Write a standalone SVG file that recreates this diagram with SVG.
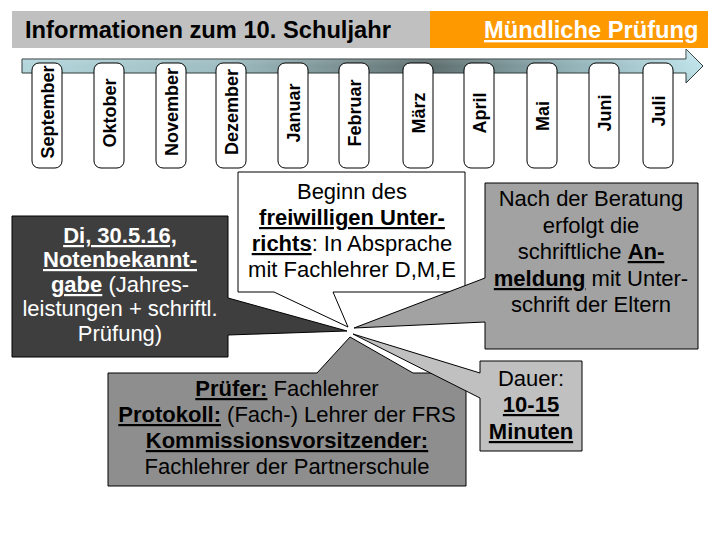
<svg xmlns="http://www.w3.org/2000/svg" width="720" height="540" viewBox="0 0 720 540">
  <defs>
    <linearGradient id="shaftGrad" x1="22" y1="0" x2="703" y2="0" gradientUnits="userSpaceOnUse">
      <stop offset="0" stop-color="#b3d6dc"/>
      <stop offset="0.3" stop-color="#9dbcc1"/>
      <stop offset="0.6" stop-color="#5f6e6e"/>
      <stop offset="0.8" stop-color="#8fb0b6"/>
      <stop offset="1" stop-color="#bfe3ea"/>
    </linearGradient>
    <linearGradient id="shaftShade" x1="0" y1="49" x2="0" y2="83" gradientUnits="userSpaceOnUse">
      <stop offset="0" stop-color="#ffffff" stop-opacity="0.25"/>
      <stop offset="0.5" stop-color="#ffffff" stop-opacity="0"/>
      <stop offset="1" stop-color="#000000" stop-opacity="0.1"/>
    </linearGradient>
  </defs>
  <style>
    text { font-family: "Liberation Sans", Arial, sans-serif; }
    .title { font-size: 23.7px; font-weight: bold; }
    .tab { fill: #ffffff; stroke: #000000; stroke-width: 1; }
    .month { font-size: 18px; font-weight: bold; fill: #000000; text-anchor: middle; }
    .co { stroke: #000000; stroke-width: 1; stroke-linejoin: miter; }
    .txt { font-size: 22px; text-anchor: middle; fill: #000000; }
    .wtxt { font-size: 22px; text-anchor: middle; fill: #ffffff; }
    .bu { font-weight: bold; text-decoration: underline; }
  </style>
  <rect width="720" height="540" fill="#ffffff"/>

  <g id="title">
    <rect x="12" y="11" width="418" height="37" fill="#c0c0c0"/>
    <rect x="430" y="11" width="278" height="37" fill="#ff9900"/>
    <text class="title" x="25" y="38" fill="#000000">Informationen zum 10. Schuljahr</text>
    <text class="title" x="484" y="38" fill="#ffffff" text-decoration="underline">Mündliche Prüfung</text>
  </g>

  <g id="timeline">
    <path d="M22,59 H686 V49 L703,66 L686,83 V73 H22 Z" fill="url(#shaftGrad)" stroke="#2f3a3a" stroke-width="1"/>
    <path d="M22,59 H686 V49 L703,66 L686,83 V73 H22 Z" fill="url(#shaftShade)"/>
  </g>

  <g id="months">
    <g id="m-sep"><rect class="tab" x="32" y="63" width="30" height="105" rx="7"/><text class="month" transform="translate(53.5,112) rotate(-90)">September</text></g>
    <g id="m-okt"><rect class="tab" x="94" y="63" width="30" height="105" rx="7"/><text class="month" transform="translate(115.5,113) rotate(-90)">Oktober</text></g>
    <g id="m-nov"><rect class="tab" x="156" y="63" width="30" height="105" rx="7"/><text class="month" transform="translate(177.5,112) rotate(-90)">November</text></g>
    <g id="m-dez"><rect class="tab" x="216" y="63" width="30" height="105" rx="7"/><text class="month" transform="translate(237.5,112) rotate(-90)">Dezember</text></g>
    <g id="m-jan"><rect class="tab" x="278" y="63" width="30" height="105" rx="7"/><text class="month" transform="translate(299.5,113) rotate(-90)">Januar</text></g>
    <g id="m-feb"><rect class="tab" x="339" y="63" width="30" height="105" rx="7"/><text class="month" transform="translate(360.5,113) rotate(-90)">Februar</text></g>
    <g id="m-mar"><rect class="tab" x="403" y="63" width="30" height="105" rx="7"/><text class="month" transform="translate(424.5,113) rotate(-90)">März</text></g>
    <g id="m-apr"><rect class="tab" x="464" y="63" width="30" height="105" rx="7"/><text class="month" transform="translate(485.5,113) rotate(-90)">April</text></g>
    <g id="m-mai"><rect class="tab" x="527" y="63" width="30" height="105" rx="7"/><text class="month" transform="translate(548.5,116) rotate(-90)">Mai</text></g>
    <g id="m-jun"><rect class="tab" x="589" y="63" width="30" height="105" rx="7"/><text class="month" transform="translate(610.5,113) rotate(-90)">Juni</text></g>
    <g id="m-jul"><rect class="tab" x="643" y="63" width="30" height="105" rx="7"/><text class="month" transform="translate(664.5,111) rotate(-90)">Juli</text></g>
  </g>

  <g id="connectors"></g>

  <g id="callout-noten">
    <path class="co" d="M12,216 H228 V298 L347,331 L228,335 V357 H12 Z" fill="#3e3e3e"/>
    <text class="wtxt" x="120" y="243"><tspan class="bu">Di, 30.5.16,</tspan></text>
    <text class="wtxt" x="120" y="267"><tspan class="bu">Notenbekannt-</tspan></text>
    <text class="wtxt" x="120" y="292"><tspan class="bu">gabe</tspan> (Jahres-</text>
    <text class="wtxt" x="120" y="316">leistungen + schriftl.</text>
    <text class="wtxt" x="120" y="341">Prüfung)</text>
  </g>

  <g id="callout-beginn">
    <path class="co" d="M238,172 H465 V292 H333 L348,327 L274,292 H238 Z" fill="#ffffff"/>
    <text class="txt" x="352" y="199">Beginn des</text>
    <text class="txt" x="352" y="225"><tspan class="bu">freiwilligen Unter-</tspan></text>
    <text class="txt" x="352" y="251"><tspan class="bu">richts</tspan>: In Absprache</text>
    <text class="txt" x="352" y="277">mit Fachlehrer D,M,E</text>
  </g>

  <g id="callout-anmeldung">
    <path class="co" d="M485,183 H698 V349 H485 V322 L354,328 L485,278 Z" fill="#a2a2a2"/>
    <text class="txt" x="591" y="206">Nach der Beratung</text>
    <text class="txt" x="591" y="233">erfolgt die</text>
    <text class="txt" x="591" y="259">schriftliche <tspan class="bu">An-</tspan></text>
    <text class="txt" x="591" y="286"><tspan class="bu">meldung</tspan> mit Unter-</text>
    <text class="txt" x="591" y="312">schrift der Eltern</text>
  </g>

  <g id="callout-pruefer">
    <path class="co" d="M108,373 H317 L350,337 L413,373 H466 V486 H108 Z" fill="#8e8e8e"/>
    <text class="txt" x="287" y="396"><tspan class="bu">Prüfer:</tspan> Fachlehrer</text>
    <text class="txt" x="287" y="422"><tspan class="bu">Protokoll:</tspan> (Fach-) Lehrer der FRS</text>
    <text class="txt" x="287" y="448"><tspan class="bu">Kommissionsvorsitzender:</tspan></text>
    <text class="txt" x="287" y="474">Fachlehrer der Partnerschule</text>
  </g>

  <g id="callout-dauer">
    <path class="co" d="M480,361 H582 V451 H480 V398 L353,334 L480,373 Z" fill="#c0c0c0"/>
    <text class="txt" x="531" y="386">Dauer:</text>
    <text class="txt" x="531" y="412"><tspan class="bu">10-15</tspan></text>
    <text class="txt" x="531" y="439"><tspan class="bu">Minuten</tspan></text>
  </g>
</svg>
